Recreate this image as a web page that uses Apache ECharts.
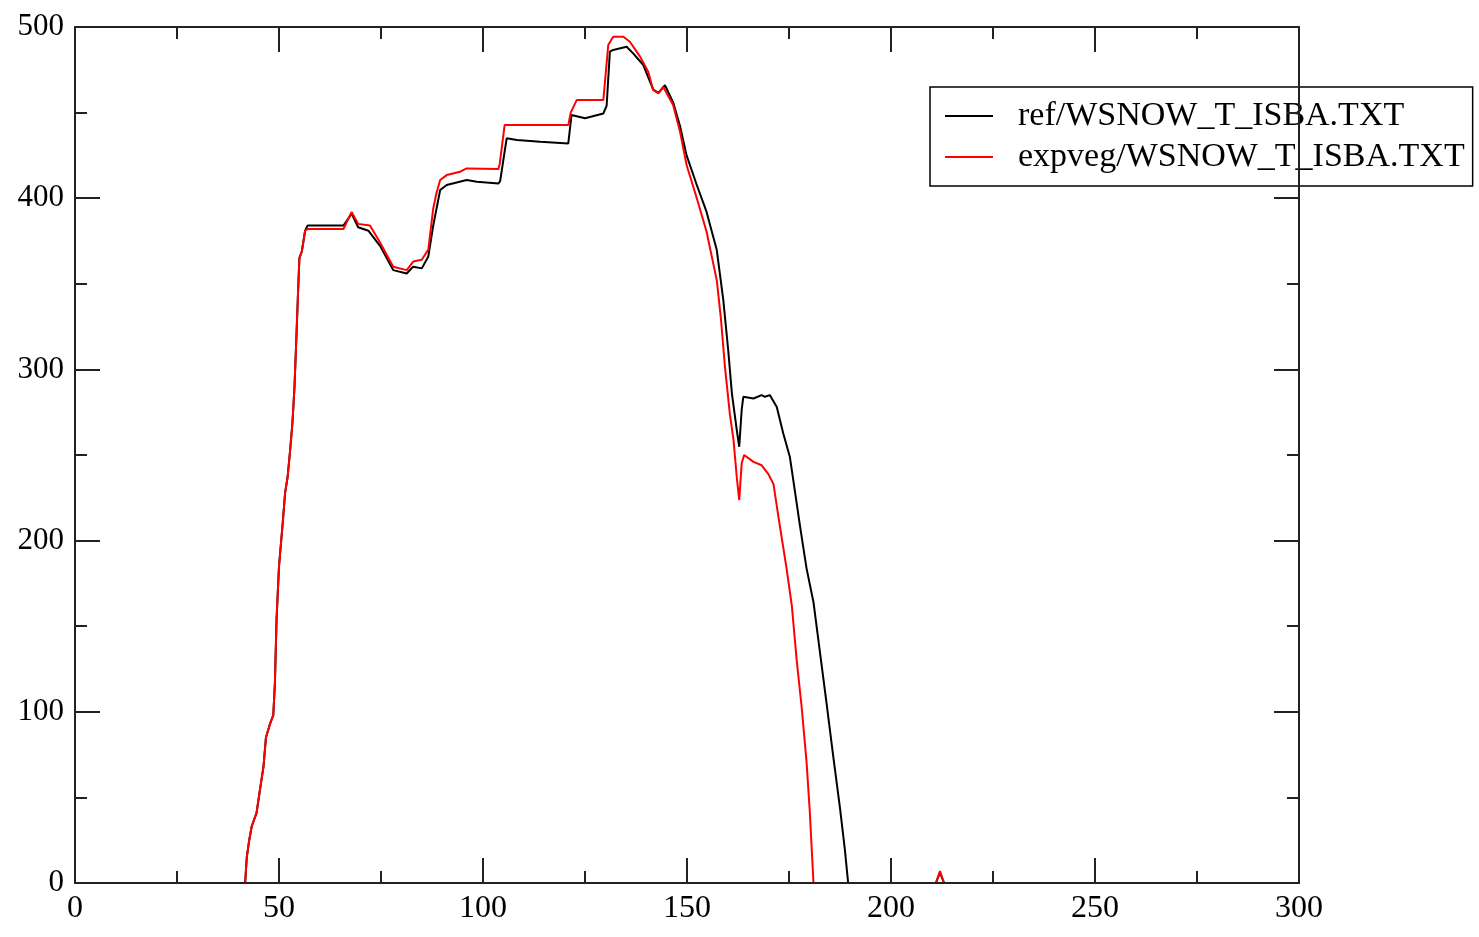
<!DOCTYPE html>
<html>
<head>
<meta charset="utf-8">
<script src="https://cdn.jsdelivr.net/npm/echarts@6/dist/echarts.min.js"></script>
<style>
html,body{margin:0;padding:0;background:#fff;}
#chart{width:1479px;height:937px;}
</style>
</head>
<body>
<div id="chart"></div>
<script>
const seriesNames = ['ref/WSNOW_T_ISBA.TXT', 'expveg/WSNOW_T_ISBA.TXT'];
const xTicks = [0, 50, 100, 150, 200, 250, 300];
const yTicks = [0, 100, 200, 300, 400, 500];

const refX = [0, 41.7, 42.1, 42.7, 43.3, 44.5, 45.3, 46.2, 46.8, 47.8, 48.6, 49, 49.4, 50, 50.9, 51.5, 52.1, 52.7, 53.3, 53.8, 54.2, 54.7, 55, 55.6, 56.4, 57,
  65.8, 67.8, 69.4, 71.9, 74.8, 78, 81.3, 82.9, 85, 86.6, 87.8, 89.5, 91.1, 96, 98.5, 103.8, 104.2, 105.8, 108.3, 114, 120.9, 121.7, 125, 129.5, 130.3, 131.1, 131.9, 135.2, 136.8, 139.3, 141.7, 143, 144.6,
  146.6, 148.3, 149.9, 152.4, 154.8, 157.3, 158.9, 160.1, 161, 162.2, 162.8, 163.4, 163.8, 166.3, 168.3, 169.1, 170.3, 172, 173.6, 175.2, 176.5, 177.7, 179.3, 181, 182.6, 184.2, 185.9, 187.5, 188.7, 189.5,
  211, 212, 213, 300];
const refY = [0, 0, 15, 25, 33, 41, 54, 68, 85, 93, 98, 117, 154, 185, 210, 228, 237, 252, 269, 290, 315, 347, 365, 369, 381, 384,
  384, 391, 383, 381, 372, 358, 356, 360, 359, 366, 384, 404.8, 407.7, 410.6, 409.6, 408.6, 410, 435, 434, 433, 432, 448.6, 446.7, 449.5, 454, 485.6, 486.6, 488.5, 484.6, 477.8, 463.5, 461.5, 466,
  456, 442, 425, 407.7, 392, 369.7, 340.5, 311.3, 286, 264.6, 254.8, 276.3, 284, 283, 285, 284, 285, 278, 262.6, 249, 228, 208.5, 183.8, 164, 134.6, 105, 73, 43.8, 19.3, 0,
  0, 6, 0, 0];

const expX = [0, 41.7, 42.1, 42.7, 43.3, 44.5, 45.3, 46.2, 46.8, 47.8, 48.6, 49, 49.4, 50, 50.9, 51.5, 52.1, 52.7, 53.3, 53.8, 54.2, 54.7, 55, 55.6, 56.4, 57,
  65.8, 67.8, 69.4, 72.3, 74.8, 78, 81.3, 82.9, 85, 86.6, 87.8, 88.6, 89.5, 91.1, 94.4, 96, 103.8, 104.1, 105.3, 120.9, 121.5, 123, 129.5, 129.9, 130.7, 131.9, 134.4, 136, 138.5, 140.5, 141.7, 143, 144.2,
  146.6, 148.3, 149.9, 152.4, 154.8, 157.3, 158.3, 159.3, 160.5, 161.4, 162.2, 162.8, 163.4, 164, 166.3, 168.3, 169.9, 171.2, 172.4, 174.4, 175.7, 176.9, 178.1, 179.3, 180.1, 181,
  211, 212, 213, 300];
const expY = [0, 0, 15, 25, 33, 41, 54, 68, 85, 93, 98, 117, 154, 185, 210, 228, 237, 252, 269, 290, 315, 347, 365, 369, 381, 382,
  382, 392, 385, 384, 374, 360, 358, 363, 364, 370, 394, 403, 410.6, 413.5, 415.5, 417.4, 417, 420, 442.7, 442.7, 450, 457.4, 457.4, 458, 489.5, 494.3, 494.3, 491.4, 482.7, 473.9, 463.2, 461.2, 465,
  454.4, 438.8, 419.4, 400, 380.4, 352, 330, 301.5, 274, 258.8, 237, 223.7, 245, 250, 246, 244, 239, 233, 214, 183.8, 161.8, 129.7, 102.8, 70.7, 41.5, 0,
  0, 7, 0, 0];

const pair = (xs, ys) => xs.map((x, i) => [x, ys[i]]);

const FONT = '"Liberation Serif", "DejaVu Serif", serif';
const AXC = '#222';

const chart = echarts.init(document.getElementById('chart'), null, {renderer: 'canvas'});

const baseAxis = {
  type: 'value',
  z: 5,
  axisLine: {show: true, onZero: false, lineStyle: {color: AXC, width: 2}},
  axisTick: {show: true, inside: true, length: 25, lineStyle: {color: AXC, width: 2}},
  minorTick: {show: true, splitNumber: 2, length: 12, lineStyle: {color: AXC, width: 2}},
  splitLine: {show: false},
  minorSplitLine: {show: false}
};

chart.setOption({
  animation: false,
  backgroundColor: '#fff',
  grid: {left: 75, right: 180, top: 27, bottom: 54, containLabel: false},
  legend: {
    orient: 'vertical',
    left: 930,
    top: 87,
    padding: [12, 8, 12, 15],
    itemGap: 7,
    itemWidth: 48,
    itemHeight: 2,
    icon: 'rect',
    backgroundColor: '#fff',
    borderColor: '#000',
    borderWidth: 1.5,
    borderRadius: 0,
    textStyle: {fontFamily: FONT, fontSize: 34, color: '#000', lineHeight: 33, padding: [0, 0, 0, 20]},
    data: seriesNames
  },
  xAxis: [
    Object.assign({}, baseAxis, {
      position: 'bottom', min: xTicks[0], max: xTicks[xTicks.length - 1], interval: 50,
      axisLabel: {show: true, margin: 10, fontFamily: FONT, fontSize: 32, color: '#000',
        formatter: v => xTicks.includes(v) ? String(v) : ''}
    }),
    Object.assign({}, baseAxis, {
      position: 'top', min: xTicks[0], max: xTicks[xTicks.length - 1], interval: 50,
      axisLabel: {show: false}
    })
  ],
  yAxis: [
    Object.assign({}, baseAxis, {
      position: 'left', min: yTicks[0], max: yTicks[yTicks.length - 1], interval: 100,
      axisLabel: {show: true, margin: 11, fontFamily: FONT, fontSize: 31, color: '#000',
        formatter: v => yTicks.includes(v) ? String(v) : ''}
    }),
    Object.assign({}, baseAxis, {
      position: 'right', min: yTicks[0], max: yTicks[yTicks.length - 1], interval: 100,
      axisLabel: {show: false}
    })
  ],
  series: [
    {
      name: seriesNames[0], type: 'line', xAxisIndex: 0, yAxisIndex: 0,
      data: pair(refX, refY), showSymbol: false, symbol: 'none', z: 2,
      lineStyle: {color: '#000', width: 2}, itemStyle: {color: '#000'}
    },
    {
      name: seriesNames[1], type: 'line', xAxisIndex: 0, yAxisIndex: 0,
      data: pair(expX, expY), showSymbol: false, symbol: 'none', z: 3,
      lineStyle: {color: '#ff0000', width: 2}, itemStyle: {color: '#ff0000'}
    }
  ]
});
</script>
</body>
</html>
